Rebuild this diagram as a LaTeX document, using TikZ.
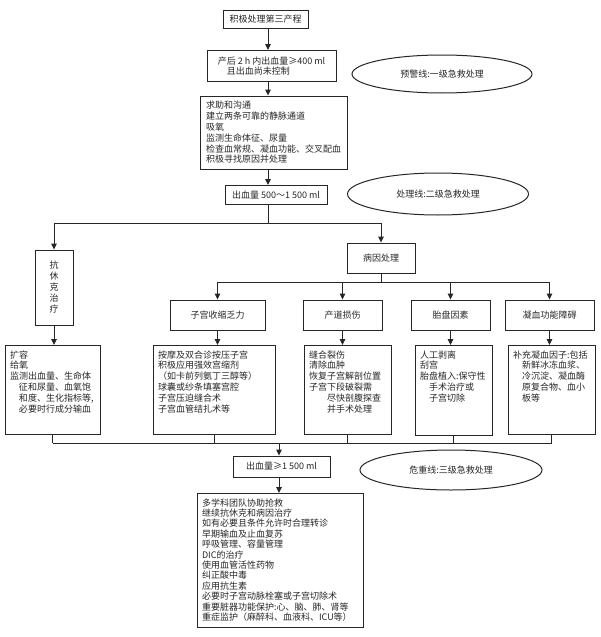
\documentclass[tikz,border=0pt]{standalone}
\usepackage{fontspec}
\setmainfont{Noto Sans CJK SC}
\usetikzlibrary{arrows.meta, shapes.geometric}

\newcommand{\toptext}[3]{\begin{minipage}[t][#2][t]{#1}#3\end{minipage}}

\begin{document}
\begin{tikzpicture}[x=1pt, y=-1pt, font=\fontsize{9}{10.8}\selectfont,
    stepbox/.style={draw=black!85, line width=0.9pt, text=black!85, inner xsep=5pt, inner ysep=3pt},
    notebox/.style={draw=black!85, line width=0.9pt, text=black!85, inner sep=5pt, anchor=north},
    warn/.style={ellipse, draw=black!85, line width=1pt, text=black!85, inner sep=0pt},
    link/.style={draw=black!85, line width=0.9pt},
    arr/.style={link, -{Triangle[length=6pt, width=5.5pt]}}]
\useasboundingbox (0,0) rectangle (600,637);

% Main line
\node[stepbox, minimum width=85, minimum height=18] (start) at (265.5,19) {积极处理第三产程};
\node[stepbox, minimum width=129, minimum height=31, align=left] (pph) at (271.5,66) {产后 2 h 内出血量≥400 ml\\\hspace*{1em}且出血尚未控制};
\node[stepbox, minimum width=147, minimum height=73, align=left] (first) at (273.5,132.5) {求助和沟通\\建立两条可靠的静脉通道\\吸氧\\监测生命体征、尿量\\检查血常规、凝血功能、交叉配血\\积极寻找原因并处理};
\node[stepbox, minimum width=102, minimum height=19] (mid) at (276,195) {出血量 500～1 500 ml};

% Warning lines
\node[warn, minimum width=180, minimum height=38] (warn1) at (442,74) {预警线:一级急救处理};
\node[warn, minimum width=181, minimum height=42] (warn2) at (438,194) {处理线:二级急救处理};
\node[warn, minimum width=182, minimum height=40] (warn3) at (451,470) {危重线:三级急救处理};

% Branches
\node[stepbox, minimum width=38, minimum height=75, align=center, font=\fontsize{9}{11}\selectfont] (shock) at (54,287.5) {抗\\休\\克\\治\\疗};
\node[stepbox, minimum width=68, minimum height=30] (cause) at (381,258) {病因处理};
\node[stepbox, minimum width=95, minimum height=30] (atony) at (217.5,315) {子宫收缩乏力};
\node[stepbox, minimum width=79, minimum height=30] (trauma) at (342.5,315) {产道损伤};
\node[stepbox, minimum width=79, minimum height=30] (placenta) at (450.5,315) {胎盘因素};
\node[stepbox, minimum width=89, minimum height=30] (coag) at (549.5,315) {凝血功能障碍};

% Measures
\node[notebox] (shock-act) at (52.5,345) {\toptext{85pt}{79pt}{扩容\\给氧\\监测出血量、生命体\\\hspace*{1em}征和尿量、血氧饱\\\hspace*{1em}和度、生化指标等,\\\hspace*{1em}必要时行成分输血}};
\node[notebox] (atony-act) at (214,345) {\toptext{112pt}{79pt}{按摩及双合诊按压子宫\\积极应用强效宫缩剂\\（如卡前列氨丁三醇等）\\球囊或纱条填塞宫腔\\子宫压迫缝合术\\子宫血管结扎术等}};
\node[notebox] (trauma-act) at (347.5,345) {\toptext{77pt}{79pt}{缝合裂伤\\清除血肿\\恢复子宫解剖位置\\子宫下段破裂需\\\hspace*{2em}尽快剖腹探查\\\hspace*{2em}并手术处理}};
\node[notebox] (placenta-act) at (453.5,345) {\toptext{67pt}{80pt}{人工剥离\\刮宫\\胎盘植入:保守性\\\hspace*{1em}手术治疗或\\\hspace*{1em}子宫切除}};
\node[notebox] (coag-act) at (551.5,345) {\toptext{77pt}{79pt}{补充凝血因子:包括\\\hspace*{1em}新鲜冰冻血浆、\\\hspace*{1em}冷沉淀、凝血酶\\\hspace*{1em}原复合物、血小\\\hspace*{1em}板等}};

% Severe bleeding
\node[stepbox, minimum width=97, minimum height=21] (severe) at (281.5,466.5) {出血量≥1 500 ml};
\node[notebox, font=\fontsize{9}{10.4}\selectfont] (final) at (280,493) {\toptext{156pt}{124pt}{多学科团队协助抢救\\继续抗休克和病因治疗\\如有必要且条件允许时合理转诊\\早期输血及止血复苏\\呼吸管理、容量管理\\DIC的治疗\\使用血管活性药物\\纠正酸中毒\\应用抗生素\\必要时子宫动脉栓塞或子宫切除术\\重要脏器功能保护:心、脑、肺、肾等\\重症监护（麻醉科、血液科、ICU等）}};

% Connectors
\coordinate (spine) at (268,0);
\draw[arr] (start.south -| spine) -- (pph.north -| spine);
\draw[arr] (pph.south -| spine) -- (first.north -| spine);
\draw[arr] (first.south -| spine) -- (mid.north -| spine);
\coordinate (split) at (268,223);
\draw[link] (mid.south -| spine) -- (split);
\draw[arr] (split) -| (shock.north);
\draw[arr] (split) -| (cause.north);
\coordinate (fork) at (381,282);
\draw[link] (cause.south) -- (fork);
\foreach \n in {atony, trauma, placenta, coag}
    \draw[arr] (fork) -| (\n.north);
\foreach \n in {shock, atony, trauma, placenta, coag}
    \draw[arr] (\n.south) -- (\n.south |- \n-act.north);
\coordinate (merge) at (279,443);
\foreach \n in {shock, atony, trauma, placenta, coag}
    \draw[link] (\n-act.south) -- (\n-act.south |- merge);
\draw[link] (shock-act.south |- merge) -- (coag-act.south |- merge);
\draw[arr] (merge) -- (merge |- severe.north);
\draw[arr] (severe.south -| merge) -- (merge |- final.north);
\end{tikzpicture}
\end{document}
